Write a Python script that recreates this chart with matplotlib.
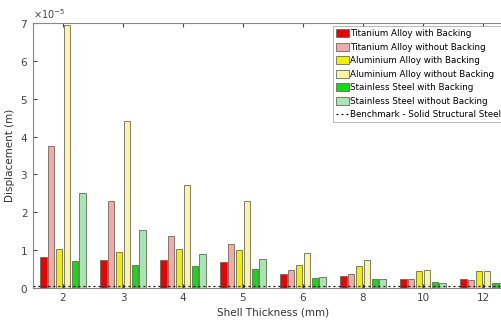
import matplotlib
matplotlib.use("Agg")
import matplotlib.pyplot as plt
import numpy as np
from matplotlib.ticker import ScalarFormatter

thickness = ["2", "3", "4", "5", "6", "8", "10", "12"]
series_names = [
    "Titanium Alloy with Backing",
    "Titanium Alloy without Backing",
    "Aluminium Alloy with Backing",
    "Aluminium Alloy without Backing",
    "Stainless Steel with Backing",
    "Stainless Steel without Backing",
]
ti_with = [0.82, 0.75, 0.75, 0.68, 0.38, 0.33, 0.24, 0.24]
ti_without = [3.75, 2.30, 1.38, 1.17, 0.47, 0.37, 0.24, 0.21]
al_with = [1.02, 0.96, 1.03, 1.00, 0.62, 0.59, 0.45, 0.44]
al_without = [6.95, 4.40, 2.72, 2.30, 0.93, 0.74, 0.48, 0.44]
ss_with = [0.72, 0.62, 0.57, 0.51, 0.26, 0.23, 0.15, 0.14]
ss_without = [2.52, 1.53, 0.91, 0.77, 0.30, 0.24, 0.14, 0.13]
benchmark = 0.04
scale = 1e-5

colors = ["#ee0000", "#f4a9a9", "#f2ee00", "#fbf4a8", "#10dd10", "#a6e6b0"]
series = [ti_with, ti_without, al_with, al_without, ss_with, ss_without]

fig = plt.figure(figsize=(5.02, 3.23), dpi=100)
ax = fig.add_axes([33/502, 35/323, 480/502, 265/323])

x = np.arange(1, len(thickness) + 1)
slot = 0.13
bw = 0.105
for i, (vals, c) in enumerate(zip(series, colors)):
    off = (i - 2.5) * slot
    ax.bar(x + off, np.array(vals) * scale, width=bw, color=c,
           edgecolor="#6a6a5a", linewidth=0.6, label=series_names[i])

ax.axhline(benchmark * scale, color="black", linestyle=(0, (1.5, 2.5)),
           linewidth=0.9, label="Benchmark - Solid Structural Steel")

ax.set_xlim(0.5, 8.5)
ax.set_ylim(0, 7e-5)
ax.set_xticks(x)
ax.set_xticklabels(thickness)
ax.set_yticks(np.arange(0, 8) * scale)
fmt = ScalarFormatter(useMathText=True)
fmt.set_powerlimits((0, 0))
ax.yaxis.set_major_formatter(fmt)
ax.yaxis.get_offset_text().set_fontsize(7)
ax.yaxis.get_offset_text().set_color("#444444")
ax.tick_params(direction="in", top=True, right=True, labelsize=7.5,
               colors="#444444", length=3)
for s in ax.spines.values():
    s.set_color("#888888")
    s.set_linewidth(0.8)

ax.set_xlabel("Shell Thickness (mm)", fontsize=7.5, color="#333333", labelpad=3)
ax.set_ylabel("Displacement (m)", fontsize=7.5, color="#333333", labelpad=4)

handles, labels = ax.get_legend_handles_labels()
handles = handles[1:] + handles[:1]
labels = labels[1:] + labels[:1]
leg = ax.legend(handles, labels, loc="upper left",
                bbox_to_anchor=(333/502, 1 - 26/323), bbox_transform=fig.transFigure,
                fontsize=6.3, frameon=True, fancybox=False, handlelength=1.5,
                handleheight=1.0, handletextpad=0.05, borderpad=0.35,
                labelspacing=0.52, borderaxespad=0)
leg.get_frame().set_edgecolor("#999999")
leg.get_frame().set_linewidth(0.6)

fig.savefig("out.png", dpi=100)
